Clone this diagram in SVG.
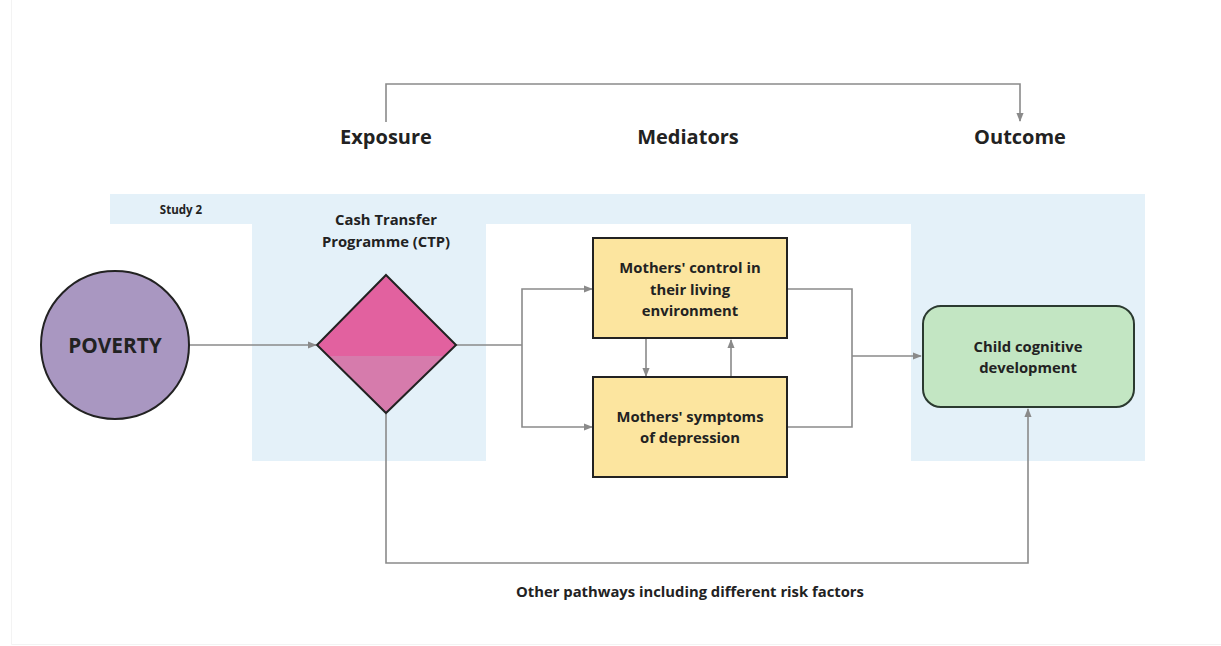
<svg xmlns="http://www.w3.org/2000/svg" width="1221" height="646" viewBox="0 0 1221 646">
  <style>
    text { font-family: "Open Sans", "Noto Sans", "Liberation Sans", sans-serif; font-weight: 700; fill: #222222; text-anchor: middle; }
    .head { font-size: 20px; }
    .label { font-size: 14.8px; }
    .small { font-size: 11.5px; }
    .big { font-size: 20.8px; }
    .conn { fill: none; stroke: #8a8a8a; stroke-width: 1.6; }
    .node { stroke: #222222; stroke-width: 2; }
    .band { fill: #e4f1f9; }
  </style>
  <defs>
    <marker id="arrow" viewBox="0 0 10 10" refX="9" refY="5" markerWidth="9" markerHeight="9" markerUnits="userSpaceOnUse" orient="auto">
      <path d="M0,1 L10,5 L0,9 Z" fill="#8a8a8a"/>
    </marker>
    <clipPath id="diamond-clip">
      <polygon points="386,275 456,345 386,413 317,345"/>
    </clipPath>
  </defs>

  <rect width="1221" height="646" fill="#ffffff"/>
  <!-- faint page frame -->
  <path d="M11.5,0 V644.5 H1221" fill="none" stroke="#f3f3f3" stroke-width="1"/>

  <!-- Study 2 shaded region -->
  <g id="study-region">
    <path class="band" d="M110,194 H1145 V461 H911 V224 H486 V461 H252 V224 H110 Z"/>
    <text class="small" x="181" y="214">Study 2</text>
  </g>

  <!-- column headings -->
  <g id="headings">
    <text class="head" x="386" y="144">Exposure</text>
    <text class="head" x="688" y="144">Mediators</text>
    <text class="head" x="1020" y="144">Outcome</text>
  </g>

  <!-- connectors -->
  <g id="connectors">
    <path class="conn" d="M386,122 V84 H1020 V121" marker-end="url(#arrow)"/>
    <path class="conn" d="M189,345 H316" marker-end="url(#arrow)"/>
    <path class="conn" d="M456,345 H522"/>
    <path class="conn" d="M522,345 V289 H592" marker-end="url(#arrow)"/>
    <path class="conn" d="M522,345 V427 H592" marker-end="url(#arrow)"/>
    <path class="conn" d="M646,339 V376" marker-end="url(#arrow)"/>
    <path class="conn" d="M731,377 V340" marker-end="url(#arrow)"/>
    <path class="conn" d="M788,289 H852 V427 H788"/>
    <path class="conn" d="M852,356 H921" marker-end="url(#arrow)"/>
    <path class="conn" d="M386,414 V563 H1028 V409" marker-end="url(#arrow)"/>
  </g>

  <g id="poverty">
    <circle class="node" cx="115" cy="345" r="74" fill="#a997c1"/>
    <text class="big" x="115" y="353">POVERTY</text>
  </g>

  <g id="ctp">
    <text class="label" x="386" y="225">Cash Transfer</text>
    <text class="label" x="386" y="247">Programme (CTP)</text>
    <g clip-path="url(#diamond-clip)">
      <rect x="310" y="270" width="150" height="86" fill="#e2619f"/>
      <rect x="310" y="356" width="150" height="62" fill="#d67bac"/>
    </g>
    <polygon class="node" points="386,275 456,345 386,413 317,345" fill="none"/>
  </g>

  <g id="mothers-control">
    <rect class="node" x="593" y="238" width="194" height="100" fill="#fce59f"/>
    <text class="label" x="690" y="273">Mothers' control in</text>
    <text class="label" x="690" y="295">their living</text>
    <text class="label" x="690" y="316">environment</text>
  </g>

  <g id="mothers-depression">
    <rect class="node" x="593" y="377" width="194" height="100" fill="#fce59f"/>
    <text class="label" x="690" y="422">Mothers' symptoms</text>
    <text class="label" x="690" y="443">of depression</text>
  </g>

  <g id="child-development">
    <rect x="923" y="306" width="211" height="101" rx="18" ry="18" fill="#c3e6c3" stroke="#2b3a30" stroke-width="2"/>
    <text class="label" x="1028" y="352">Child cognitive</text>
    <text class="label" x="1028" y="373">development</text>
  </g>

  <g id="other-pathways">
    <text class="label" x="690" y="597">Other pathways including different risk factors</text>
  </g>
</svg>
